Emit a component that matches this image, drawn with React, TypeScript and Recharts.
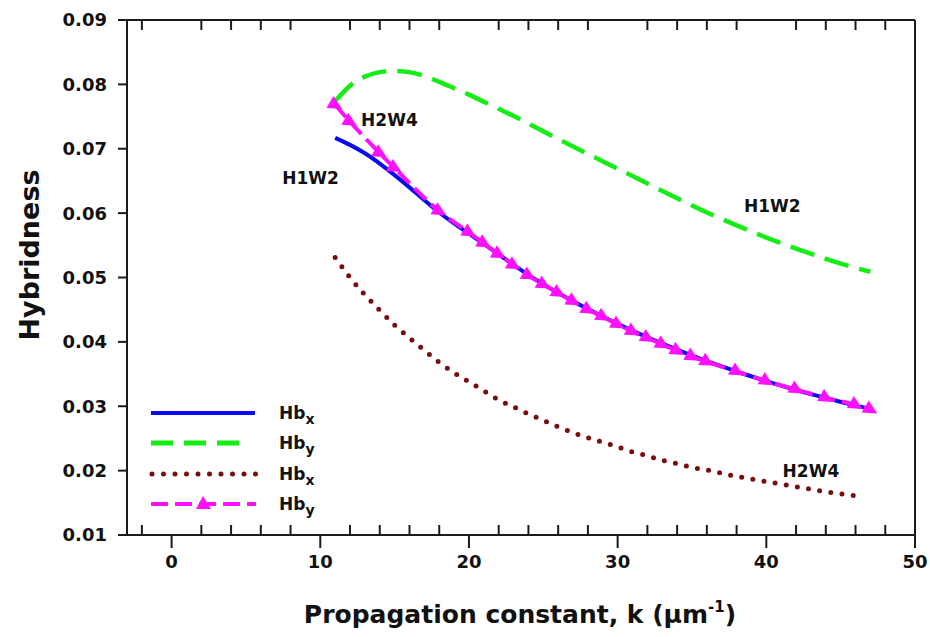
import React from 'react'
import { LineChart, Line, XAxis, YAxis, ReferenceDot, ReferenceLine, Customized } from 'recharts'

// propagation constant k (um^-1) and hybridness values
const kH1W2x = [11, 12, 13, 14, 15, 16, 17, 18, 19, 20, 22, 24, 26, 28, 30, 32, 34, 36, 38, 40, 42, 44, 46, 47]
const hbxH1W2 = [0.0717, 0.0706, 0.0693, 0.0677, 0.0659, 0.064, 0.062, 0.0601, 0.0584, 0.0568, 0.0536, 0.0504, 0.0476, 0.0451, 0.0428, 0.0407, 0.0388, 0.037, 0.0354, 0.0339, 0.0325, 0.0313, 0.0301, 0.0296]

const kH1W2y = [11, 12, 13, 14, 15, 16, 17, 18, 19, 20, 21, 22, 23, 24, 26, 28, 30, 32, 34, 36, 38, 40, 42, 44, 46, 47]
const hbyH1W2 = [0.0774, 0.0798, 0.0812, 0.0819, 0.0821, 0.0819, 0.0813, 0.0804, 0.0794, 0.0784, 0.0773, 0.0762, 0.0751, 0.0739, 0.0715, 0.0692, 0.0669, 0.0646, 0.0623, 0.0601, 0.0581, 0.0562, 0.0545, 0.0529, 0.0515, 0.0509]

const kH2W4x = [11, 12, 13, 14, 15, 16, 17, 18, 19, 20, 21, 22, 23, 24, 25, 26, 27, 28, 29, 30, 31, 32, 33, 34, 35, 36, 37, 38, 39, 40, 41, 42, 43, 44, 45, 46, 46.5]
const hbxH2W4 = [0.0531, 0.05, 0.0473, 0.0449, 0.0426, 0.0406, 0.0387, 0.0368, 0.0352, 0.0338, 0.0324, 0.031, 0.0299, 0.0288, 0.0278, 0.0268, 0.0259, 0.0251, 0.0244, 0.0237, 0.0229, 0.0223, 0.0216, 0.0211, 0.0205, 0.0201, 0.0196, 0.0191, 0.0187, 0.0183, 0.0179, 0.0175, 0.0171, 0.0167, 0.0164, 0.0161, 0.0159]

const kH2W4y = [11, 12, 14, 15, 18, 20, 21, 22, 23, 24, 25, 26, 27, 28, 29, 30, 31, 32, 33, 34, 35, 36, 38, 40, 42, 44, 46, 47]
const hbyH2W4 = [0.0768, 0.0742, 0.0693, 0.067, 0.0603, 0.057, 0.0553, 0.0536, 0.0519, 0.0503, 0.0489, 0.0476, 0.0463, 0.045, 0.0439, 0.0427, 0.0416, 0.0406, 0.0396, 0.0386, 0.0377, 0.0369, 0.0354, 0.0339, 0.0326, 0.0313, 0.0302, 0.0295]

const xMajorTicks = [0, 10, 20, 30, 40, 50]
const xMinorTicks = [-2, 2, 4, 6, 8, 12, 14, 16, 18, 22, 24, 26, 28, 32, 34, 36, 38, 42, 44, 46, 48]
const yTicks = [0.01, 0.02, 0.03, 0.04, 0.05, 0.06, 0.07, 0.08, 0.09]

// curve labels, placed in data coordinates
const annotations = [
  { text: 'H1W2', k: 9.35, hb: 0.0655 },
  { text: 'H2W4', k: 14.65, hb: 0.0745 },
  { text: 'H1W2', k: 40.4, hb: 0.0611 },
  { text: 'H2W4', k: 43.0, hb: 0.02 },
]

const toPoints = (ks: number[], vals: number[]) => ks.map((k, i) => ({ k, hb: vals[i] }))

const FONT = '"DejaVu Sans", Arial, sans-serif'
const AXIS = '#1a1a1a'
const BLUE = '#0a0af0'
const GREEN = '#14ee14'
const BROWN = '#7a0c0c'
const MAGENTA = '#ff10ff'

const W = 930
const H = 637
const MARGIN = { top: 20, right: 15, bottom: 0, left: 0 }
const Y_AXIS_W = 127
const X_AXIS_H = 102
const X_DOMAIN = [-3, 50]
const Y_DOMAIN = [0.01, 0.09]
const PLOT_W = W - MARGIN.left - MARGIN.right - Y_AXIS_W
const PLOT_H = H - MARGIN.top - MARGIN.bottom - X_AXIS_H
const PLOT_L = MARGIN.left + Y_AXIS_W
const PLOT_T = MARGIN.top
// same linear mapping as the chart axes, for the tick marks
const xPx = (v: number) => PLOT_L + ((v - X_DOMAIN[0]) / (X_DOMAIN[1] - X_DOMAIN[0])) * PLOT_W
const yPx = (v: number) => PLOT_T + ((Y_DOMAIN[1] - v) / (Y_DOMAIN[1] - Y_DOMAIN[0])) * PLOT_H

function XTickLabel(props: any) {
  const { x, y, payload } = props
  return (
    <text x={x} y={y} dy={20} textAnchor="middle" fontFamily={FONT} fontWeight="bold" fontSize={18} fill="#111">
      {payload.value}
    </text>
  )
}

function TriangleDot(props: any) {
  const { cx, cy, index } = props
  if (cx == null || cy == null) return null
  return (
    <polygon
      key={`tri-${index}`}
      points="8,0 -6,-7 -6,7"
      transform={`translate(${cx},${cy}) rotate(30)`}
      fill={MAGENTA}
    />
  )
}

// tick marks drawn in an overlay above the chart
function TickOverlay() {
  const bottom = yPx(Y_DOMAIN[0])
  const top = yPx(Y_DOMAIN[1])
  const left = xPx(X_DOMAIN[0])
  return (
    <svg
      width={W}
      height={H}
      style={{ position: 'absolute', left: 0, top: 0, pointerEvents: 'none' }}
    >
      <g stroke={AXIS} strokeWidth={2}>
        {xMajorTicks.map((v) => (
          <line key={`xM${v}`} x1={xPx(v)} x2={xPx(v)} y1={bottom} y2={bottom + 13} />
        ))}
        {xMinorTicks.map((v) => (
          <line key={`xmb${v}`} x1={xPx(v)} x2={xPx(v)} y1={bottom} y2={bottom - 10} />
        ))}
        {xMinorTicks.map((v) => (
          <line key={`xmt${v}`} x1={xPx(v)} x2={xPx(v)} y1={top} y2={top + 10} />
        ))}
        {yTicks.map((v) => (
          <line key={`y${v}`} x1={left} x2={left - 9} y1={yPx(v)} y2={yPx(v)} />
        ))}
      </g>
    </svg>
  )
}

function Decorations() {
  const rows = [
    { y: 413, sub: 'x' },
    { y: 443, sub: 'y' },
    { y: 474, sub: 'x' },
    { y: 504, sub: 'y' },
  ]
  return (
    <g fontFamily={FONT} fontWeight="bold" fill="#111">
      {/* legend */}
      <line x1={151} x2={255} y1={413} y2={413} stroke={BLUE} strokeWidth={4} />
      <line x1={151} x2={245} y1={443} y2={443} stroke={GREEN} strokeWidth={5} strokeDasharray="22 11" />
      <line x1={152} x2={256} y1={474} y2={474} stroke={BROWN} strokeWidth={5} strokeDasharray="0 11.5" strokeLinecap="round" />
      <line x1={151} x2={256} y1={504} y2={504} stroke={MAGENTA} strokeWidth={4} strokeDasharray="17 7" />
      <polygon points="203,496 196,509 211,509" fill={MAGENTA} />
      {rows.map((r, i) => (
        <text key={i} x={279} y={r.y + 6} fontSize={17}>
          Hb
          <tspan fontSize={14} dy={5}>{r.sub}</tspan>
        </text>
      ))}
      {/* axis titles */}
      <text
        transform="translate(29,255) rotate(-90)"
        textAnchor="middle"
        dominantBaseline="central"
        fontSize={27}
      >
        Hybridness
      </text>
      <text x={520} y={623} textAnchor="middle" fontSize={25}>
        Propagation constant, k (μm
        <tspan fontSize={15} dy={-11}>-1</tspan>
        <tspan dy={11}>)</tspan>
      </text>
    </g>
  )
}

export default function App() {
  const tickStyle = { fontSize: 18, fontWeight: 'bold', fill: '#111', fontFamily: FONT }
  return (
    <div style={{ position: 'absolute', left: 0, top: 0, width: W, height: H, background: '#fff' }}>
      <LineChart width={W} height={H} margin={MARGIN}>
        <XAxis
          dataKey="k"
          type="number"
          domain={X_DOMAIN}
          allowDataOverflow
          ticks={xMajorTicks}
          interval={0}
          height={X_AXIS_H}
          tickSize={13}
          tickMargin={0}
          tickLine={false}
          tick={<XTickLabel />}
          axisLine={{ stroke: AXIS, strokeWidth: 2 }}
        />
        <YAxis
          type="number"
          domain={Y_DOMAIN}
          allowDataOverflow
          ticks={yTicks}
          interval={0}
          width={Y_AXIS_W}
          tickSize={9}
          tickMargin={11}
          tickLine={false}
          tick={tickStyle}
          tickFormatter={(v: number) => v.toFixed(2)}
          axisLine={{ stroke: AXIS, strokeWidth: 2 }}
        />

        {/* frame: top and right */}
        <ReferenceLine y={Y_DOMAIN[1]} stroke={AXIS} strokeWidth={2} ifOverflow="visible" />
        <ReferenceLine x={X_DOMAIN[1]} stroke={AXIS} strokeWidth={2} ifOverflow="visible" />

        <Line
          data={toPoints(kH1W2y, hbyH1W2)}
          dataKey="hb"
          type="monotone"
          stroke={GREEN}
          strokeWidth={4.5}
          strokeDasharray="25 11"
          dot={false}
          isAnimationActive={false}
        />
        <Line
          data={toPoints(kH2W4x, hbxH2W4)}
          dataKey="hb"
          type="monotone"
          stroke={BROWN}
          strokeWidth={5}
          strokeDasharray="0 11.3"
          strokeLinecap="round"
          dot={false}
          isAnimationActive={false}
        />
        <Line
          data={toPoints(kH1W2x, hbxH1W2)}
          dataKey="hb"
          type="monotone"
          stroke={BLUE}
          strokeWidth={4}
          dot={false}
          isAnimationActive={false}
        />
        <Line
          data={toPoints(kH2W4y, hbyH2W4)}
          dataKey="hb"
          type="monotone"
          stroke={MAGENTA}
          strokeWidth={4}
          strokeDasharray="16 7"
          dot={<TriangleDot />}
          isAnimationActive={false}
        />

        {annotations.map((a, i) => (
          <ReferenceDot
            key={i}
            x={a.k}
            y={a.hb}
            r={0}
            ifOverflow="visible"
            shape={(p: any) => (
              <text
                x={p.cx}
                y={p.cy}
                textAnchor="middle"
                dominantBaseline="central"
                fontFamily={FONT}
                fontWeight="bold"
                fontSize={17}
                fill="#111"
              >
                {a.text}
              </text>
            )}
          />
        ))}
        <Customized component={Decorations} />
      </LineChart>
      <TickOverlay />
    </div>
  )
}
